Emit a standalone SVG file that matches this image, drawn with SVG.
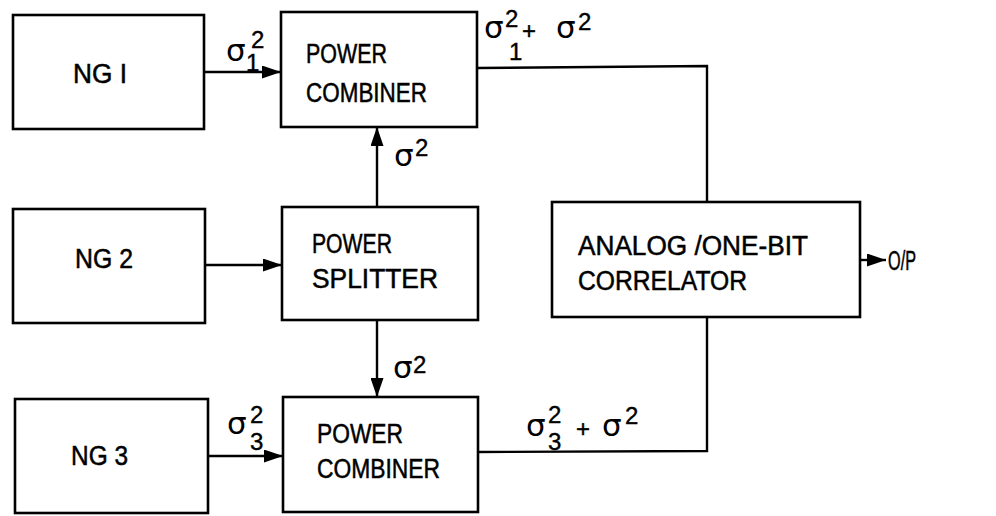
<svg xmlns="http://www.w3.org/2000/svg" width="996" height="516" viewBox="0 0 996 516">
<defs>
<marker id="ah" viewBox="0 0 10 10" refX="10" refY="5" markerWidth="19" markerHeight="13" markerUnits="userSpaceOnUse" orient="auto" preserveAspectRatio="none">
<path d="M0,0 L10,5 L0,10 Z" fill="#000"/>
</marker>
</defs>
<style>
rect.box{fill:#fff;stroke:#000;stroke-width:2.6}
.lbl{font-family:"Liberation Sans",Arial,sans-serif;font-size:27px;fill:#000;stroke:#000;stroke-width:0.5}
.sig{font-family:"DejaVu Sans","Liberation Sans",sans-serif;font-size:31px;fill:#000}
.num{font-family:"Liberation Sans",Arial,sans-serif;font-size:24px;fill:#000;stroke:#000;stroke-width:0.4}
.conn line,.conn polyline{fill:none;stroke:#000;stroke-width:2.4}
</style>
<rect width="996" height="516" fill="#fff"/>
<g class="conn" id="connectors">
<line x1="204" y1="72" x2="281" y2="72" marker-end="url(#ah)"/>
<line x1="205" y1="265" x2="282" y2="265" marker-end="url(#ah)"/>
<line x1="208" y1="456" x2="283" y2="456" marker-end="url(#ah)"/>
<line x1="377" y1="207" x2="377" y2="127" marker-end="url(#ah)"/>
<line x1="377" y1="320" x2="377" y2="397" marker-end="url(#ah)"/>
<polyline points="477,68 707,66 707,202"/>
<polyline points="478,452 707,451 707,317"/>
<line x1="860" y1="260" x2="886" y2="260" marker-end="url(#ah)"/>
</g>
<g id="ng1"><rect class="box" x="13" y="15" width="191" height="114"/><text class="lbl" x="73" y="83" textLength="54" lengthAdjust="spacingAndGlyphs">NG I</text></g>
<g id="ng2"><rect class="box" x="13" y="209" width="192" height="114"/><text class="lbl" x="75" y="268" textLength="58" lengthAdjust="spacingAndGlyphs">NG 2</text></g>
<g id="ng3"><rect class="box" x="15" y="399" width="193" height="114"/><text class="lbl" x="71" y="465" textLength="57" lengthAdjust="spacingAndGlyphs">NG 3</text></g>
<g id="pc1"><rect class="box" x="281" y="12" width="196" height="115"/>
<text class="lbl" x="306" y="63" textLength="81" lengthAdjust="spacingAndGlyphs">POWER</text>
<text class="lbl" x="306" y="102" textLength="121" lengthAdjust="spacingAndGlyphs">COMBINER</text></g>
<g id="splitter"><rect class="box" x="282" y="207" width="196" height="113"/>
<text class="lbl" x="312" y="253" textLength="80" lengthAdjust="spacingAndGlyphs">POWER</text>
<text class="lbl" x="312" y="288" textLength="126" lengthAdjust="spacingAndGlyphs">SPLITTER</text></g>
<g id="pc2"><rect class="box" x="283" y="397" width="195" height="115"/>
<text class="lbl" x="317" y="443" textLength="86" lengthAdjust="spacingAndGlyphs">POWER</text>
<text class="lbl" x="317" y="478" textLength="123" lengthAdjust="spacingAndGlyphs">COMBINER</text></g>
<g id="correlator"><rect class="box" x="552" y="202" width="308" height="115"/>
<text class="lbl" x="578" y="255" textLength="230" lengthAdjust="spacingAndGlyphs">ANALOG /ONE-BIT</text>
<text class="lbl" x="578" y="290" textLength="169" lengthAdjust="spacingAndGlyphs">CORRELATOR</text></g>
<g id="output"><text class="lbl" x="888" y="270" textLength="28" lengthAdjust="spacingAndGlyphs">O/P</text></g>
<g id="labels">
<text class="sig" x="226" y="61">σ</text><text class="num" x="246" y="71" font-size="15">1</text><text class="num" x="251" y="48">2</text>
<text class="sig" x="394" y="166">σ</text><text class="num" x="415" y="156">2</text>
<text class="sig" x="484" y="38">σ</text><text class="num" x="509" y="60" font-size="16">1</text><text class="num" x="505" y="27">2</text>
<text class="num" x="522" y="39" font-size="30">+</text><text class="sig" x="556" y="38">σ</text><text class="num" x="578" y="30">2</text>
<text class="sig" x="393" y="378">σ</text><text class="num" x="413" y="373">2</text>
<text class="sig" x="227" y="434">σ</text><text class="num" x="250" y="423" font-size="21">2</text><text class="num" x="250" y="450" font-size="21">3</text>
<text class="sig" x="526" y="436">σ</text><text class="num" x="548" y="423" font-size="21">2</text><text class="num" x="548" y="450" font-size="21">3</text>
<text class="num" x="576" y="437" font-size="18">+</text><text class="sig" x="602" y="436">σ</text><text class="num" x="625" y="424">2</text>
</g>
</svg>
